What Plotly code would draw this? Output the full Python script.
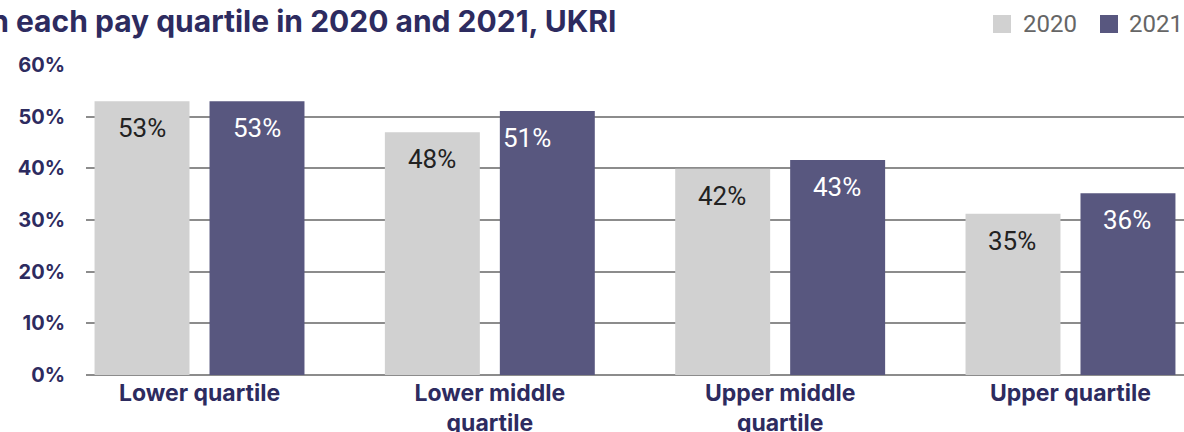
import plotly.graph_objects as go

# Данные: доли по квартилям оплаты (высоты столбцов)
quartiles = ["Lower quartile", "Lower middle<br>quartile", "Upper middle<br>quartile", "Upper quartile"]
values_2020 = [53, 47, 39.9, 31.2]
values_2021 = [53, 51.1, 41.6, 35.2]
labels_2020 = ["53%", "48%", "42%", "35%"]
labels_2021 = ["53%", "51%", "43%", "36%"]
y_ticks = [0, 10, 20, 30, 40, 50, 60]
y_ticktext = [f"{v}%" for v in y_ticks]
years = ["2020", "2021"]

NAVY = "#2d2b5f"
GREY_BAR = "#d1d1d1"
PURPLE_BAR = "#58577f"

W, H = 1184, 432
M = dict(l=86, r=0, t=65, b=57)


def px_x(px):
    """Пиксель по x -> координата paper."""
    return (px - M["l"]) / (W - M["l"] - M["r"])


def px_y(py):
    """Пиксель по y (сверху) -> координата paper."""
    return (H - M["b"] - py) / (H - M["t"] - M["b"])


fig = go.Figure()
fig.add_trace(go.Bar(name=years[0], x=quartiles, y=values_2020, marker_color=GREY_BAR,
                     marker_line_width=0))
fig.add_trace(go.Bar(name=years[1], x=quartiles, y=values_2021, marker_color=PURPLE_BAR,
                     marker_line_width=0))

# Подписи значений внутри столбцов, чуть ниже верха
nudge_2021 = [0, -20, 0, 0]  # подпись 51% сдвинута влево, как в оригинале
for vals, labels, shift, nudges, col in [
    (values_2020, labels_2020, -58, [0, 0, 0, 0], "#222222"),
    (values_2021, labels_2021, 57, nudge_2021, "#ffffff"),
]:
    for q, v, t, n in zip(quartiles, vals, labels, nudges):
        fig.add_annotation(
            x=q, y=v, text=t, showarrow=False,
            xshift=shift + n, yshift=-27, yanchor="middle",
            font=dict(family="Roboto, sans-serif", size=26, color=col),
        )

# Заголовок (обрезан слева, как в оригинале)
fig.add_annotation(
    xref="paper", yref="paper", x=px_x(618), y=px_y(21),
    xanchor="right", yanchor="middle", showarrow=False,
    text="in each pay quartile in 2020 and 2021, UKRI",
    font=dict(family="Inter, sans-serif", size=30, color=NAVY, weight="bold"),
)

# Легенда вручную: крупные квадраты как в оригинале
for name, col, sq_x, txt_x in [
    (years[0], GREY_BAR, 993, 1021),
    (years[1], PURPLE_BAR, 1100, 1127),
]:
    fig.add_shape(
        type="rect", xref="paper", yref="paper",
        x0=px_x(sq_x), x1=px_x(sq_x + 18), y0=px_y(33), y1=px_y(15),
        fillcolor=col, line_width=0,
    )
    fig.add_annotation(
        xref="paper", yref="paper", x=px_x(txt_x), y=px_y(24),
        xanchor="left", yanchor="middle", showarrow=False, text=name,
        font=dict(family="Roboto, sans-serif", size=24, color="#666666"),
    )

fig.update_layout(
    width=W, height=H,
    template="plotly_white",
    plot_bgcolor="white", paper_bgcolor="white",
    margin=dict(**M, autoexpand=False),
    barmode="group",
    bargap=0.208, bargroupgap=0.174,
    showlegend=False,
)
fig.update_xaxes(
    range=[-0.391, 3.391],
    showgrid=False, showline=False, ticks="",
    tickfont=dict(family="Inter, sans-serif", size=23, color=NAVY, weight="bold"),
    ticklabelstandoff=2,
)
fig.update_yaxes(
    range=[0, 60], tickvals=y_ticks, ticktext=y_ticktext,
    showgrid=True, gridcolor="#8c8c8c", gridwidth=1.5,
    zeroline=True, zerolinecolor="#8c8c8c", zerolinewidth=2,
    tickfont=dict(family="Inter, sans-serif", size=20, color=NAVY, weight="bold"),
    ticklabelstandoff=20,
)

# убираем стандартный отступ body, чтобы график лёг ровно в окно
fig.write_html(
    "out.html",
    config={"displayModeBar": False},
    post_script="document.body.style.margin='0';",
)
